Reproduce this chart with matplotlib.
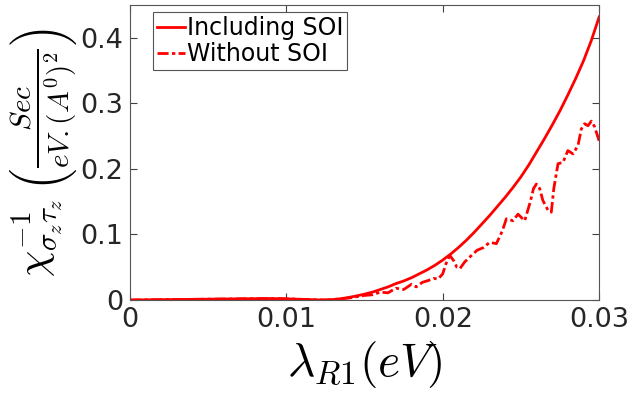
import matplotlib
matplotlib.use("Agg")
import matplotlib.pyplot as plt

plt.rcParams['mathtext.fontset'] = 'cm'
plt.rcParams['font.family'] = ['DejaVu Sans']

lam_soi = [0, 0.002, 0.004, 0.006, 0.008, 0.009, 0.010, 0.011, 0.012, 0.0125,
           0.013, 0.0135, 0.014, 0.0145, 0.015, 0.0155, 0.016, 0.0165, 0.017, 0.0175,
           0.018, 0.0185, 0.019, 0.0195, 0.020, 0.0205, 0.021, 0.0215, 0.022, 0.0225,
           0.023, 0.0235, 0.024, 0.0245, 0.025, 0.0255, 0.026, 0.0265, 0.027, 0.0275,
           0.028, 0.0285, 0.029, 0.0295, 0.030]
chi_soi = [0, 0.0005, 0.001, 0.0015, 0.002, 0.0022, 0.0018, 0.001, 0.0002, 0.0,
           0.0008, 0.002, 0.004, 0.0063, 0.009, 0.012, 0.016, 0.020, 0.025, 0.029,
           0.034, 0.040, 0.046, 0.053, 0.061, 0.070, 0.080, 0.091, 0.103, 0.116,
           0.129, 0.143, 0.157, 0.172, 0.188, 0.206, 0.226, 0.246, 0.267, 0.289,
           0.313, 0.338, 0.365, 0.396, 0.432]

lam_nosoi = [0, 0.002, 0.004, 0.006, 0.008, 0.009, 0.010, 0.011, 0.012, 0.0125,
             0.013, 0.014, 0.015, 0.0155, 0.016, 0.0165, 0.017, 0.0175, 0.018, 0.0183,
             0.0187, 0.0191, 0.0194, 0.0197, 0.0200, 0.0202, 0.02045, 0.0207, 0.0209, 0.0211,
             0.0214, 0.0217, 0.0222, 0.0226, 0.0230, 0.02343, 0.0238, 0.02407, 0.02449, 0.02481,
             0.02524, 0.0256, 0.0258, 0.02599, 0.0262, 0.0264, 0.02673, 0.02694, 0.0271, 0.02737,
             0.02769, 0.028, 0.02833, 0.02865, 0.02886, 0.02907, 0.02929, 0.0295, 0.0297, 0.030]
chi_nosoi = [0, 0.0005, 0.001, 0.0015, 0.002, 0.0022, 0.0018, 0.001, 0.0002, 0.0,
             0.0007, 0.003, 0.007, 0.008, 0.012, 0.011, 0.018, 0.016, 0.024, 0.020,
             0.027, 0.030, 0.033, 0.032, 0.040, 0.055, 0.068, 0.060, 0.050, 0.048,
             0.058, 0.065, 0.076, 0.080, 0.088, 0.086, 0.105, 0.124, 0.121, 0.131,
             0.121, 0.150, 0.170, 0.177, 0.170, 0.152, 0.137, 0.134, 0.170, 0.208,
             0.210, 0.228, 0.223, 0.236, 0.261, 0.269, 0.266, 0.273, 0.265, 0.243]

xticks = [0, 0.01, 0.02, 0.03]
xtick_labels = ['0', '0.01', '0.02', '0.03']
yticks = [0, 0.1, 0.2, 0.3, 0.4]
ytick_labels = ['0', '0.1', '0.2', '0.3', '0.4']

fig = plt.figure(figsize=(6.32, 3.96), dpi=100)
ax = fig.add_axes([0.2057, 0.2424, 0.7423, 0.7446])

red = '#ff0000'
ax.plot(lam_soi, chi_soi, color=red, lw=2.0, label='Including SOI')
ax.plot(lam_nosoi, chi_nosoi, color=red, lw=2.0, linestyle=(0, (4, 1.2, 1.2, 1.2)),
        label='Without SOI')

ax.set_xlim(0, 0.03)
ax.set_ylim(0, 0.45)
ax.set_xticks(xticks)
ax.set_xticklabels(xtick_labels)
ax.set_yticks(yticks)
ax.set_yticklabels(ytick_labels)
ax.tick_params(direction='in', length=5, width=0.8, top=True, right=True,
               labelsize=19.5, colors='#404040', labelcolor='#262626', pad=5)
for s in ax.spines.values():
    s.set_color('#555555')
    s.set_linewidth(0.8)

ax.set_xlabel(r'$\lambda_{R1}(eV)$', fontsize=34, labelpad=4)
ax.set_ylabel(r'$\chi^{-1}_{\sigma_z\tau_z}\,\left(\frac{Sec}{eV.(A^0)^2}\right)$',
              fontsize=30, labelpad=0)

leg = ax.legend(loc='upper left', fontsize=17, handlelength=1.2, handletextpad=0.1,
                labelspacing=0.1, borderpad=0.15, borderaxespad=0.0, fancybox=False,
                framealpha=1, edgecolor='#555555', bbox_to_anchor=(0.049, 0.976))
leg.get_frame().set_linewidth(0.8)

fig.savefig('out.png', dpi=100)
